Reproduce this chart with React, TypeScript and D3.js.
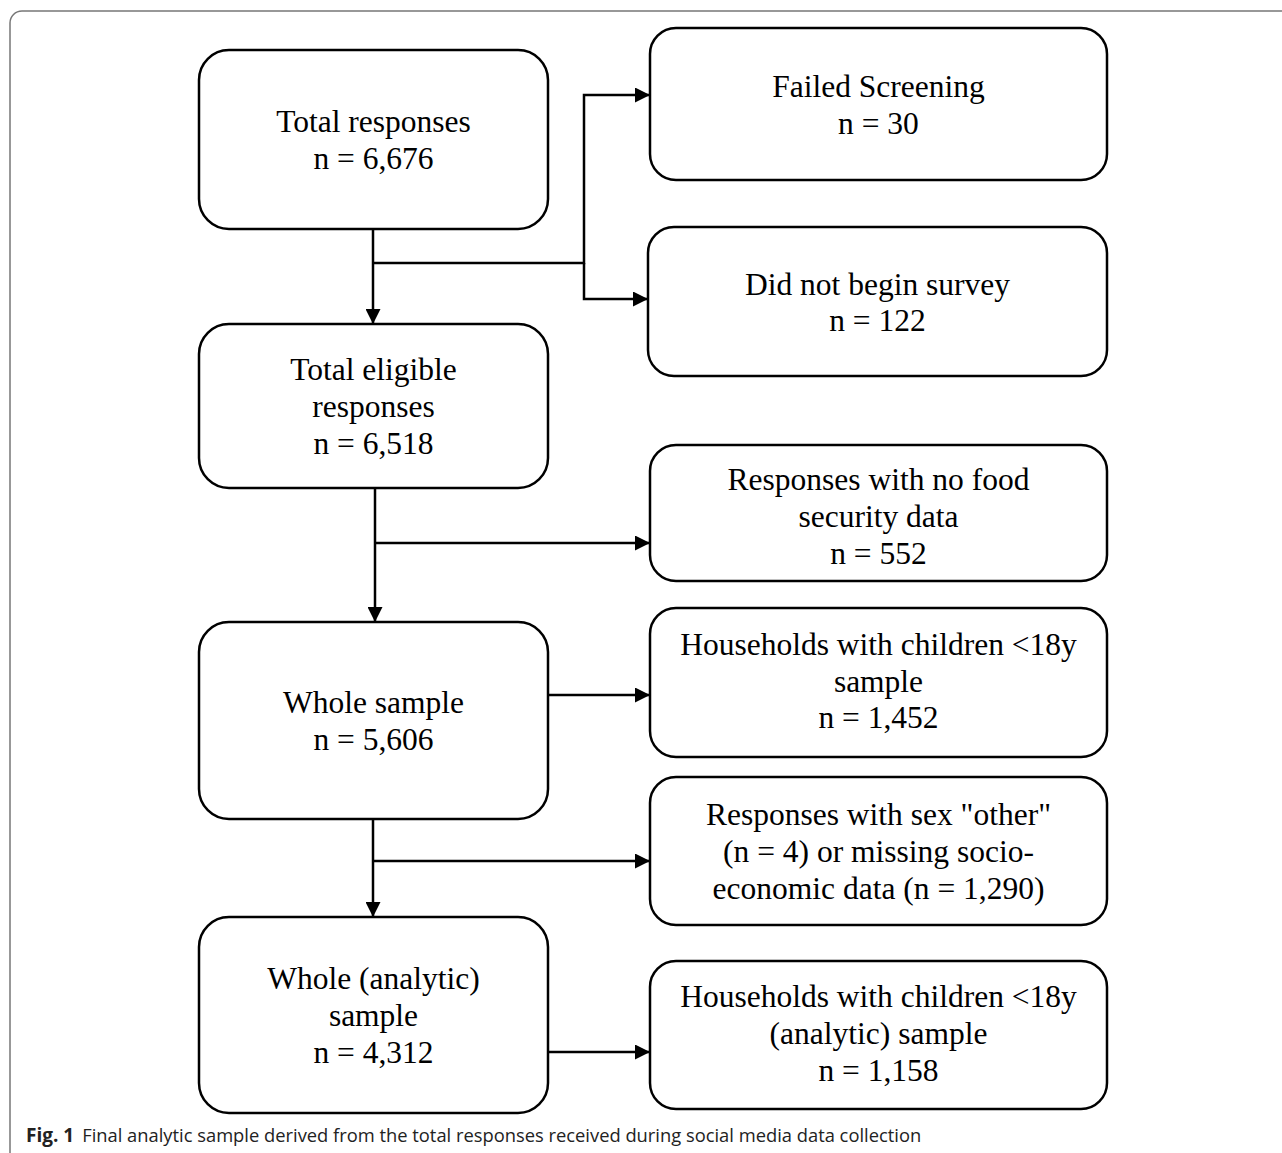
import * as d3 from 'd3'

// main-flow boxes (left column)
const mainLabels = [
  ['Total responses'],
  ['Total eligible', 'responses'],
  ['Whole sample'],
  ['Whole (analytic)', 'sample'],
]
const mainCounts = ['6,676', '6,518', '5,606', '4,312']

// excluded / derived boxes (right column)
const sideLabels = [
  ['Failed Screening'],
  ['Did not begin survey'],
  ['Responses with no food', 'security data'],
  ['Households with children <18y', 'sample'],
  ['Responses with sex "other"', '(n = 4) or missing socio-', 'economic data (n = 1,290)'],
  ['Households with children <18y', '(analytic) sample'],
]
const sideCounts = ['30', '122', '552', '1,452', null, '1,158']

const caption = 'Final analytic sample derived from the total responses received during social media data collection'

const W = 1282
const H = 1153

const mainBoxes = [
  { x: 199, y: 50, w: 349, h: 179, dy: 1 },
  { x: 199, y: 324, w: 349, h: 164, dy: 1 },
  { x: 199, y: 622, w: 349, h: 197, dy: 1 },
  { x: 199, y: 917, w: 349, h: 196, dy: 1 },
]
const sideBoxes = [
  { x: 650, y: 28, w: 457, h: 152, dy: 1.5 },
  { x: 648, y: 227, w: 459, h: 149, dy: 1.5 },
  { x: 650, y: 445, w: 457, h: 136, dy: 4 },
  { x: 650, y: 608, w: 457, h: 149, dy: -1 },
  { x: 650, y: 777, w: 457, h: 148, dy: 1 },
  { x: 650, y: 961, w: 457, h: 148, dy: -1 },
]

const LINE_H = 36.7
const FONT = 31.5

type Box = { x: number; y: number; w: number; h: number; dy: number }

function lines(label: string[], count: string | null) {
  return count ? [...label, `n = ${count}`] : label
}

function BoxText({ b, rows }: { b: Box; rows: string[] }) {
  const cx = b.x + b.w / 2
  const cy = b.y + b.h / 2 + b.dy
  const y0 = cy - ((rows.length - 1) * LINE_H) / 2
  return (
    <text
      x={cx}
      textAnchor="middle"
      fontFamily="'Liberation Serif', 'Times New Roman', serif"
      fontSize={FONT}
      fill="#000"
    >
      {rows.map((r, i) => (
        <tspan key={i} x={cx} y={y0 + i * LINE_H + 10}>
          {r}
        </tspan>
      ))}
    </text>
  )
}

export default function App() {
  const line = d3.line<[number, number]>()
  const arrows: [number, number][][] = [
    [[373, 229], [373, 324]],
    [[373, 263], [584, 263], [584, 95], [650, 95]],
    [[584, 263], [584, 299], [648, 299]],
    [[375, 488], [375, 622]],
    [[375, 543], [650, 543]],
    [[548, 695], [650, 695]],
    [[373, 819], [373, 917]],
    [[373, 861], [650, 861]],
    [[548, 1052], [650, 1052]],
  ]

  return (
    <div style={{ position: 'absolute', left: 0, top: 0 }}>
      <svg width={W} height={H} style={{ display: 'block' }}>
        <defs>
          <marker
            id="arr"
            viewBox="0 0 10 10"
            refX={10}
            refY={5}
            markerWidth={15}
            markerHeight={15}
            markerUnits="userSpaceOnUse"
            orient="auto"
          >
            <path d="M0,0L10,5L0,10Z" fill="#000" />
          </marker>
        </defs>
        <rect x={10} y={11} width={1300} height={1200} rx={12} fill="#fff" stroke="#777" strokeWidth={1.5} />

        {arrows.map((pts, i) => (
          <path key={i} d={line(pts) ?? ''} fill="none" stroke="#000" strokeWidth={2.5} markerEnd="url(#arr)" />
        ))}

        {mainBoxes.map((b, i) => (
          <g key={`m${i}`}>
            <rect x={b.x} y={b.y} width={b.w} height={b.h} rx={30} fill="#fff" stroke="#000" strokeWidth={2.5} />
            <BoxText b={b} rows={lines(mainLabels[i], mainCounts[i])} />
          </g>
        ))}
        {sideBoxes.map((b, i) => (
          <g key={`s${i}`}>
            <rect x={b.x} y={b.y} width={b.w} height={b.h} rx={26} fill="#fff" stroke="#000" strokeWidth={2.5} />
            <BoxText b={b} rows={lines(sideLabels[i], sideCounts[i])} />
          </g>
        ))}

        <text x={26} y={1142} fontFamily="'Open Sans', 'Noto Sans', sans-serif" fontSize={18} fill="#222">
          <tspan fontWeight="bold" fontSize={19}>Fig. 1</tspan>
          <tspan dx={8} textLength={839} lengthAdjust="spacingAndGlyphs">{caption}</tspan>
        </text>
      </svg>
    </div>
  )
}
